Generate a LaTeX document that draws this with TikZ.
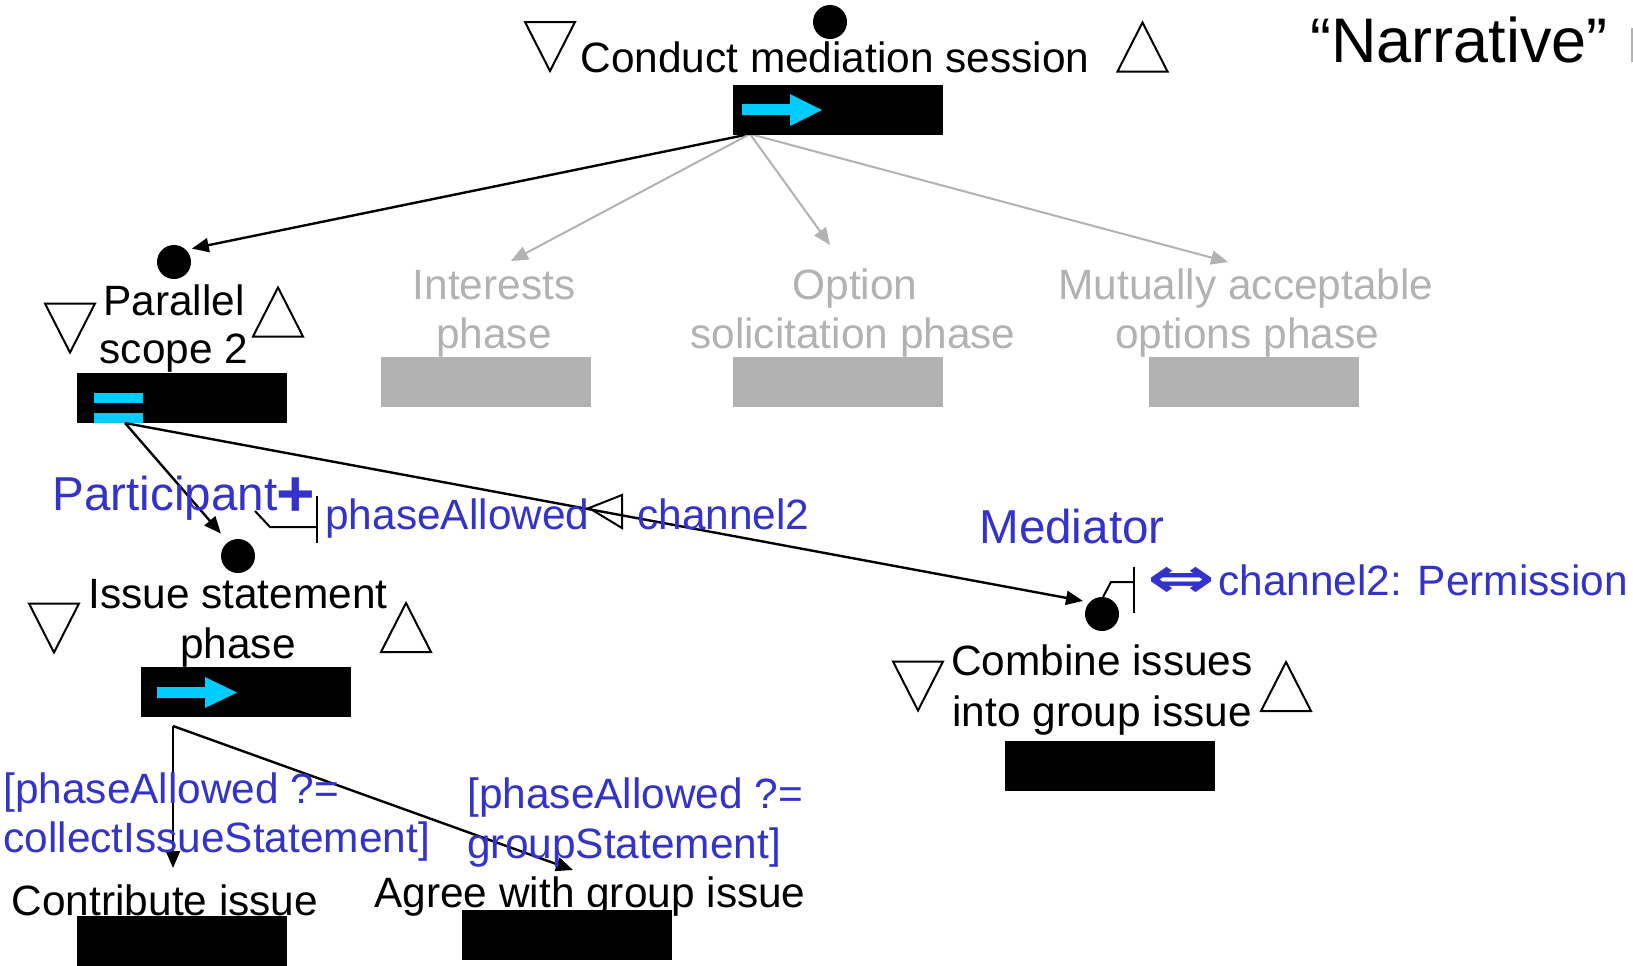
\documentclass[tikz,border=0pt]{standalone}
\usepackage{fontspec}
\setmainfont{Liberation Sans}
\newfontfamily\dejavu{DejaVu Sans}
\usetikzlibrary{arrows.meta}
\definecolor{lblue}{HTML}{3333CC}
\definecolor{lgray}{HTML}{B2B2B2}
\definecolor{lcyan}{HTML}{00CCFF}
\tikzset{
  dtri/.pic={\draw[line width=1pt,line join=miter] (-25,-24.5) -- (25,-24.5) -- (0,24.5) -- cycle;},
  utri/.pic={\draw[line width=1pt,line join=miter] (-25,24.5) -- (25,24.5) -- (0,-24.5) -- cycle;},
}
\begin{document}
\begin{tikzpicture}[x=0.5pt,y=-0.5pt,
  txt/.style={inner sep=0pt, anchor=base, font=\fontsize{21.2}{25}\selectfont},
  gtxt/.style={txt, text=lgray},
  btxt/.style={txt, anchor=base west, text=lblue},
  role/.style={inner sep=0pt, anchor=base west, text=lblue, font=\fontsize{23.8}{28}\selectfont},
  bar/.style={fill=black, minimum width=105pt, minimum height=25pt, inner sep=0pt},
  gbar/.style={bar, fill=lgray},
  dot/.style={circle, fill=black, minimum size=17pt, inner sep=0pt},
  conn/.style={line width=1.2pt, -{Triangle[length=8.5pt,width=7pt]}},
  gconn/.style={conn, draw=lgray, line width=1pt},
  port/.style={line width=1pt},
  cyanarrow/.style={fill=lcyan},
]
\useasboundingbox (0,0) rectangle (1633,965);
\fill[white] (0,0) rectangle (1633,965);

% ---------- top activity ----------
\coordinate (o1) at (750,134);
\coordinate (intip) at (511,261);
\coordinate (opttip) at (830,245);
\coordinate (muttip) at (1228,262);
\node[dot] (pdot) at (174,262) {};
\draw[conn, shorten >=2.8pt] (o1) -- (pdot.45);
\draw[gconn] (o1) -- (intip);
\draw[gconn] (o1) -- (opttip);
\draw[gconn] (o1) -- (muttip);

\node[bar] (topbar) at (838,109.5) {};
\fill[cyanarrow] (742,104) -- (790,104) -- (790,94) -- (822,110) -- (790,126) -- (790,115) -- (742,115) -- cycle;
\node[dot] (topdot) at (830,22) {};
\node[txt] (toptxt) at (835,72) {Conduct mediation session};
\pic at (550,46.5) {dtri};
\pic at (1142.5,47) {utri};
\node[inner sep=0pt, anchor=base, font=\fontsize{31.5}{36}\selectfont] (narr) at (1459,62) {“Narrative”};
\fill[gray!60] (1631,28) rectangle (1633,62);

% ---------- parallel scope ----------
\node[txt] (ptxt1) at (174,315) {Parallel};
\node[txt] (ptxt2) at (174,363) {scope 2};
\pic at (70,328) {dtri};
\pic at (278,312) {utri};
\node[bar] (pbar) at (182,398) {};
\fill[cyanarrow] (94,393) rectangle (143,403);
\fill[cyanarrow] (94,413) rectangle (143,423);

% ---------- grey phases ----------
\node[gtxt] (int1) at (494,299) {Interests};
\node[gtxt] (int2) at (494,348) {phase};
\node[gbar] (intbar) at (486,381.5) {};
\node[gtxt] (opt1) at (855,299) {Option};
\node[gtxt] (opt2) at (853,348) {solicitation phase};
\node[gbar] (optbar) at (838,381.5) {};
\node[gtxt] (mut1) at (1246,299) {Mutually acceptable};
\node[gtxt] (mut2) at (1247,348) {options phase};
\node[gbar] (mutbar) at (1254,381.5) {};

% ---------- issue statement phase ----------
\node[dot] (idot) at (238,556) {};
\node[dot] (mdot) at (1102,614) {};
\coordinate (o2) at (125,423);
\draw[conn, shorten >=5.4pt] (o2) -- (idot.125);
\draw[conn, shorten >=3.2pt] (o2) -- (mdot.137);

\node[role] (part) at (52,510) {Participant};
\node[inner sep=0pt, anchor=base, text=lblue, font=\fontsize{33}{36}\selectfont\bfseries] (plus) at (296,516) {+};
\draw[port] (255,511) -- (270,527) -- (317,527);
\draw[port] (317,496) -- (317,543);
\node[btxt] (pa) at (325,529) {phaseAllowed};
\draw[port] (589,508) -- (622,495) -- (622,528) -- cycle;
\node[btxt] (ch2) at (637,529) {channel2};

\node[txt] (itxt1) at (238,608) {Issue statement};
\node[txt] (itxt2) at (238,658) {phase};
\pic at (54,628) {dtri};
\pic at (406,627.5) {utri};
\node[bar] (ibar) at (246,692) {};
\fill[cyanarrow] (157,687) -- (205,687) -- (205,677) -- (237,692.5) -- (205,708) -- (205,698) -- (157,698) -- cycle;

\coordinate (o3) at (173,726);
\coordinate (ctip) at (173,868);
\coordinate (atip) at (573,870);
\draw[conn] (o3) -- (ctip);
\draw[conn] (o3) -- (atip);

\node[btxt] (g1a) at (3,803) {[phaseAllowed ?=};
\node[btxt] (g1b) at (3,852) {collectIssueStatement]};
\node[btxt] (g2a) at (467,808) {[phaseAllowed ?=};
\node[btxt] (g2b) at (467,858) {groupStatement]};

\node[txt] (ctxt) at (165,915) {Contribute issue};
\node[bar] (cbar) at (182,941) {};
\node[txt] (atxt) at (590,907) {Agree with group issue};
\node[bar] (abar) at (566.5,935) {};

% ---------- mediator ----------
\node[role] (med) at (979,543) {Mediator};
\draw[port] (1103,597) -- (1111,582) -- (1134,582);
\draw[port] (1134,567) -- (1134,613);
\node[inner sep=0pt, text=lblue, font=\dejavu\bfseries\fontsize{28}{30}\selectfont] (iff) at (1182,582) {\scalebox{1.45}[1]{⇔}};
\node[btxt] (perm) at (1218,595) {channel2: Permission};
\node[txt] (mtxt1) at (1102,675) {Combine issues};
\node[txt] (mtxt2) at (1102,726) {into group issue};
\pic at (918,686) {dtri};
\pic at (1286,686.5) {utri};
\node[bar] (mbar) at (1109.5,766) {};
\end{tikzpicture}
\end{document}
